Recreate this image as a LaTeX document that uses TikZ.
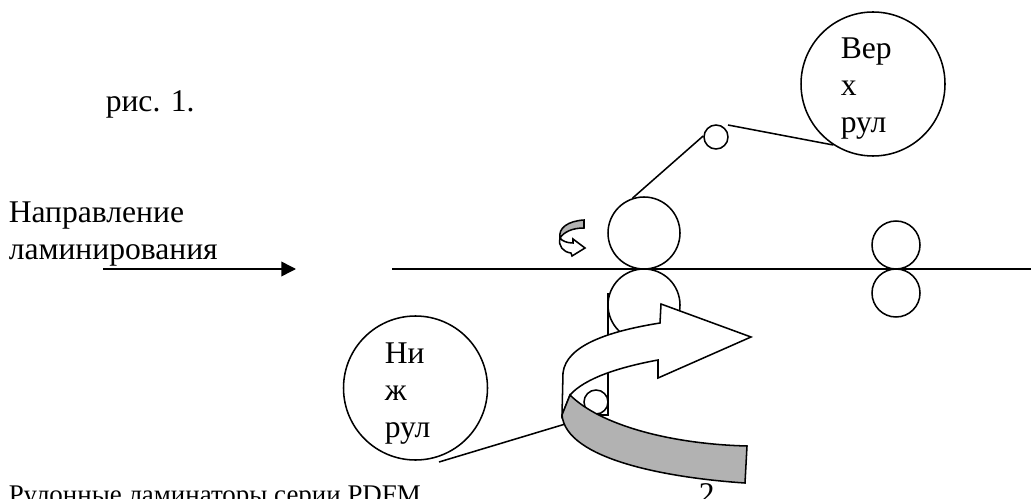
\documentclass[tikz,border=0pt]{standalone}
\usepackage{fontspec}
\setmainfont{Liberation Serif}
\usepackage{tikz}
\usetikzlibrary{arrows.meta, positioning, calc}
\definecolor{ribbon}{HTML}{B2B2B2}
\tikzset{
  lbl/.style={inner sep=0pt, anchor=base west, font=\fontsize{23.7}{27.75}\selectfont},
  footlbl/.style={lbl, font=\fontsize{20.2}{24}\selectfont},
  bigroll/.style={draw, circle, inner sep=0pt, minimum size=54pt},
  smallroll/.style={draw, circle, inner sep=0pt, minimum size=36pt},
  tinyroll/.style={draw, circle, inner sep=0pt, minimum size=18pt},
  reel/.style={draw, circle, inner sep=0pt, minimum size=108pt},
  band/.style={draw, line width=1.15pt, line join=miter}
}
\begin{document}
\begin{tikzpicture}[x=0.75pt, y=-0.75pt, line width=1.15pt]
    \useasboundingbox (0,0) rectangle (1031,499);
    % texts
    \node[lbl] (fig) at (105,112) {рис. 1.};
    \node[lbl] (dirA) at (8,222) {Направление};
    \node[lbl] (dirB) at (8,259) {ламинирования};
    \node[footlbl] (foot) at (8,503) {Рулонные ламинаторы серии PDFM};
    \node[lbl] (page) at (698,504) {2};
    % rollers
    \node[bigroll] (rollUp) at (644,233) {};
    \node[bigroll] (rollLow) at (644,305) {};
    \node[smallroll] (rollUpR) at (896,245) {};
    \node[smallroll] (rollLowR) at (896,293) {};
    \node[tinyroll] (tinyUp) at (716,137) {};
    \node[tinyroll] (tinyLow) at (596,402) {};
    \node[reel] (reelUp) at (873,84) {};
    \node[reel] (reelLow) at (415.5,388) {};
    \node[lbl] (upA) at (840,59) {Вер};
    \node[lbl] (upB) at (840,96) {х};
    \node[lbl] (upC) at (840,133) {рул};
    \node[lbl] (lowA) at (384,363) {Ни};
    \node[lbl] (lowB) at (384,400) {ж};
    \node[lbl] (lowC) at (384,437) {рул};
    % film
    \coordinate (filmL) at (392,269);
    \coordinate (filmR) at (1031,269);
    \coordinate (legTop) at (608,293);
    \coordinate (dirL) at (103,269);
    \coordinate (dirR) at (296,269);
    \coordinate (feedLow) at (439,462);
    \coordinate (feedUp) at (728,125);
    \draw (filmL) -- (filmR);
    \draw[-{Triangle[length=11pt,width=11pt]}] (dirL) -- (dirR);
    \draw (rollUp.108) -- (tinyUp.175);
    \draw (feedUp) -- (reelUp.237);
    \draw (legTop) -- (legTop |- tinyLow.south) -- (tinyLow.south);
    \draw (feedLow) -- (tinyLow.south);
    % big bent arrow
    \draw[band, fill=white] (562,415) -- (563,373) .. controls (566,345) and (610,331) .. (660,323)
      -- (661,304) -- (751,337) -- (658,378) -- (658,360)
      .. controls (620,367) and (585,378) .. (570,395) -- cycle;
    \draw[band, fill=ribbon] (570,395) .. controls (600,425) and (670,444) .. (747,446)
      -- (745,483) .. controls (670,478) and (566,460) .. (562,415) -- cycle;
    % small bent arrow
    \draw[fill=white] (560,238) .. controls (558,246) and (563,252) .. (571,253)
      -- (572,256) -- (585,248) -- (573,239) -- (573,243) .. controls (567,243) and (562,241) .. (560,238) -- cycle;
    \draw[fill=ribbon] (584,220) -- (584,228) .. controls (572,228) and (564,232) .. (560,238)
      .. controls (558,228) and (568,221) .. (584,220) -- cycle;
\end{tikzpicture}
\end{document}
